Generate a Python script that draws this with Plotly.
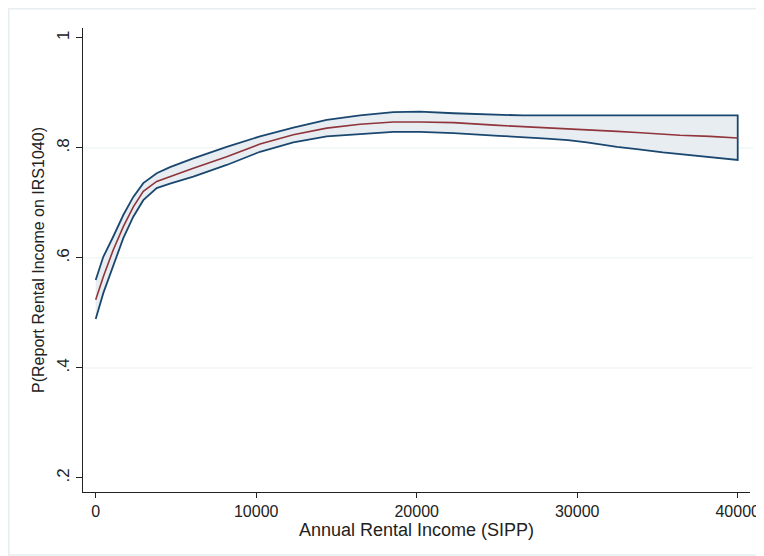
import plotly.graph_objects as go

# Data
income = [0, 474, 1097, 1720, 2343, 2966, 3801, 4629, 6081, 8162, 10237, 12312,
          14393, 16467, 18542, 20200, 22300, 25100, 26620, 28100, 29420, 30600,
          32480, 33710, 35340, 36400, 38270, 40000]
p_mean = [0.524, 0.566, 0.615, 0.657, 0.693, 0.721, 0.739, 0.748, 0.763, 0.784,
          0.807, 0.824, 0.836, 0.843, 0.847, 0.847, 0.846, 0.841, 0.839, 0.837,
          0.835, 0.833, 0.830, 0.828, 0.825, 0.823, 0.821, 0.818]
p_upper = [0.560, 0.602, 0.639, 0.678, 0.711, 0.736, 0.754, 0.765, 0.781, 0.802,
           0.821, 0.837, 0.851, 0.859, 0.865, 0.866, 0.863, 0.860, 0.859, 0.859,
           0.859, 0.859, 0.859, 0.859, 0.859, 0.859, 0.859, 0.859]
p_lower = [0.489, 0.536, 0.587, 0.636, 0.675, 0.705, 0.727, 0.735, 0.748, 0.769,
           0.793, 0.810, 0.821, 0.825, 0.829, 0.829, 0.827, 0.822, 0.820, 0.817,
           0.814, 0.810, 0.802, 0.798, 0.792, 0.789, 0.783, 0.778]

x_ticks = [0, 10000, 20000, 30000, 40000]
x_tick_labels = ["0", "10000", "20000", "30000", "40000"]
y_ticks = [0.2, 0.4, 0.6, 0.8, 1.0]
y_tick_labels = [".2", ".4", ".6", ".8", "1"]
y_grid = [0.4, 0.6, 0.8]

NAVY = "#1a476f"
RED = "#90353b"
FILL = "#e8edf2"
GRID = "#eaf1f3"
FONT = "Liberation Sans"

# page body has an 8px margin; figure is placed at (8, 8) in the window
W, H = 756, 548
L, R, T, B = 75, 14, 20, 64
PW, PH = W - L - R, H - T - B

fig = go.Figure()

# confidence band as closed polygon with outline
fig.add_trace(go.Scatter(
    x=income + income[::-1],
    y=p_upper + p_lower[::-1],
    mode="lines", fill="toself", fillcolor=FILL,
    line=dict(color=NAVY, width=1.8),
    hoverinfo="skip", showlegend=False,
))
fig.add_trace(go.Scatter(
    x=income, y=p_mean, mode="lines",
    line=dict(color=RED, width=1.6), showlegend=False,
))

shapes = []
for g in y_grid:
    shapes.append(dict(type="line", xref="paper", yref="y", x0=0, x1=1.005,
                       y0=g, y1=g, line=dict(color=GRID, width=1), layer="below"))
# outer graph-region frame
shapes.append(dict(type="rect", xref="paper", yref="paper",
                   x0=(0.75 - L) / PW, x1=(754 - L) / PW,
                   y0=(PH + T - 547) / PH, y1=(PH + T - 0.75) / PH,
                   line=dict(color="#e6eef0", width=1.5), layer="below"))

fig.update_layout(
    width=W, height=H,
    margin=dict(l=L, r=R, t=T, b=B),
    paper_bgcolor="white", plot_bgcolor="white",
    font=dict(family=FONT, size=16, color="#222222"),
    shapes=shapes,
    xaxis=dict(
        range=[-791, 40766], tickvals=x_ticks, ticktext=x_tick_labels,
        showgrid=False, zeroline=False, showline=True, linecolor="#222222",
        linewidth=1, ticks="outside", ticklen=5, tickcolor="#222222",
        automargin=False, ticklabeloverflow="allow",
        title=dict(text="Annual Rental Income (SIPP)", standoff=3,
                   font=dict(size=18)),
        tickfont=dict(size=16),
    ),
    yaxis=dict(
        range=[0.1745, 1.018], tickvals=y_ticks, ticktext=y_tick_labels,
        showgrid=False, zeroline=False, showline=True, linecolor="#222222",
        linewidth=1, ticks="outside", ticklen=6, tickcolor="#222222",
        tickangle=-90, automargin=False, ticklabeloverflow="allow",
        title=dict(text="P(Report Rental Income on IRS1040)", standoff=5,
                   font=dict(size=16)),
        tickfont=dict(size=17),
    ),
)

fig.write_html("out.html")
